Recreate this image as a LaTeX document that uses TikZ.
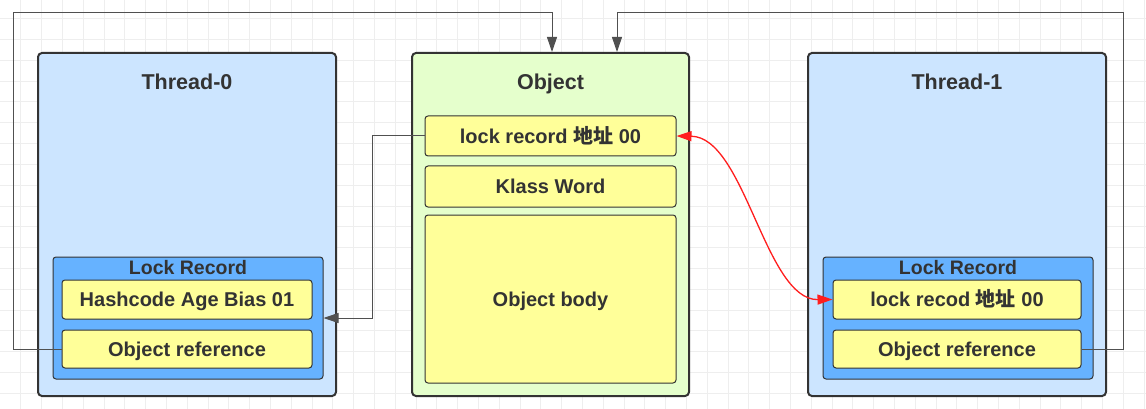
\documentclass[tikz,border=0pt]{standalone}
\usepackage{fontspec}
\setmainfont{Liberation Sans}
\newfontfamily\cjk{Noto Sans CJK SC}
\usetikzlibrary{arrows.meta,calc,positioning}
\definecolor{threadblue}{RGB}{204,229,255}
\definecolor{recblue}{RGB}{102,178,255}
\definecolor{cellyellow}{RGB}{255,255,153}
\definecolor{objgreen}{RGB}{229,255,204}
\definecolor{edgegray}{RGB}{51,51,51}
\definecolor{linegray}{RGB}{80,80,80}
\definecolor{gridgray}{RGB}{238,238,238}
\definecolor{txtgray}{RGB}{51,51,51}
\definecolor{linkred}{RGB}{255,30,30}
\tikzset{
  gridline/.style={gridgray, line width=1pt},
  bigbox/.style={draw=edgegray, line width=2pt, rounded corners=4pt, minimum width=298pt, minimum height=343pt, inner sep=0pt},
  recbox/.style={draw=edgegray, fill=recblue, line width=1pt, rounded corners=3pt, minimum width=270pt, minimum height=122pt, inner sep=0pt},
  cell/.style={draw=edgegray, fill=cellyellow, line width=1pt, rounded corners=3pt, minimum width=250pt, minimum height=38pt, inner sep=0pt, text height=14.4pt, text depth=0pt, text=txtgray, font=\fontsize{20}{24}\selectfont\bfseries},
  boxtitle/.style={text=txtgray, inner sep=0pt, text height=15.5pt, text depth=0pt, font=\fontsize{21.5}{25}\selectfont\bfseries},
  rectitle/.style={text=txtgray, inner sep=0pt, text height=14pt, text depth=0pt, font=\fontsize{19.5}{23}\selectfont\bfseries},
  link/.style={linegray, line width=1pt, -{Triangle[length=15pt,width=10pt]}},
  redlink/.style={linkred, line width=1.3pt, {Triangle[length=15pt,width=10pt]}-{Triangle[length=15pt,width=10pt]}}
}
\begin{document}
\begin{tikzpicture}[x=1pt, y=-1pt]
    \useasboundingbox (0,0) rectangle (1146,409);
    \fill[white] (0,0) rectangle (1146,409);
    % background grid
    \foreach \gx in {1,...,55} \draw[gridline] (\gx*20.8,0) -- (\gx*20.8,409);
    \foreach \gy in {1,...,19} \draw[gridline] (0,\gy*20.8-2) -- (1146,\gy*20.8-2);

    % Thread-0
    \node[bigbox, fill=threadblue] (t0) at (187,224.5) {};
    \node[boxtitle] (t0title) at (187,82) {Thread-0};
    \node[recbox] (lr0) at (188,318) {};
    \node[rectitle] (lr0title) at (188,267) {Lock Record};
    \node[cell, minimum height=39pt] (hash0) at (187,299.5) {Hashcode Age Bias 01};
    \node[cell] (ref0) at (187,349) {Object reference};

    % Object
    \node[bigbox, fill=objgreen, minimum width=277pt] (obj) at (550.5,224.5) {};
    \node[boxtitle] (objtitle) at (550.5,82) {Object};
    \node[cell, minimum width=251pt, minimum height=40pt] (lrec) at (550.5,136) {lock record {\cjk\bfseries 地址} 00};
    \node[cell, minimum width=251pt, minimum height=41pt] (klass) at (550.5,186.5) {Klass Word};
    \node[cell, minimum width=251pt, minimum height=168pt] (body) at (550.5,299) {Object body};

    % Thread-1
    \node[bigbox, fill=threadblue] (t1) at (957,224.5) {};
    \node[boxtitle] (t1title) at (957,82) {Thread-1};
    \node[recbox] (lr1) at (958,318) {};
    \node[rectitle] (lr1title) at (958,267) {Lock Record};
    \node[cell, minimum width=248pt, minimum height=39pt] (recod1) at (957,299.5) {lock recod {\cjk\bfseries 地址} 00};
    \node[cell, minimum width=248pt] (ref1) at (957,349) {Object reference};

    % references
    \coordinate (c0) at (13,13);
    \coordinate (c1) at (1123,13);
    \draw[link] (ref0.west) -| (c0) -| ([xshift=1.5pt]obj.north);
    \draw[link] (ref1.east) -| (c1) -| ([xshift=66.5pt]obj.north);
    \draw[link] (lrec.west) -- ++(-52,0) |- (lr0.east);
    \draw[redlink] (lrec.east) .. controls (745,137) and (765,300) .. (recod1.west);
\end{tikzpicture}
\end{document}
